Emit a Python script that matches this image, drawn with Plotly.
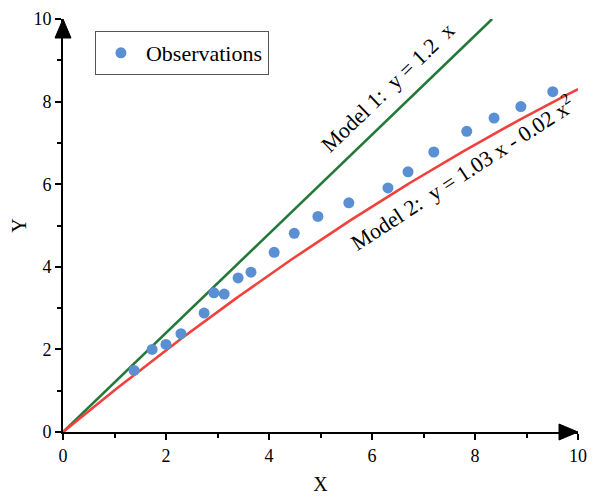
import numpy as np
import plotly.graph_objects as go

obs_x = [1.38, 1.73, 2.00, 2.29, 2.74, 2.93, 3.13, 3.40, 3.65, 4.10, 4.49, 4.95,
         5.55, 6.31, 6.70, 7.20, 7.84, 8.37, 8.89, 9.51]
obs_y = [1.49, 2.00, 2.12, 2.38, 2.88, 3.37, 3.34, 3.73, 3.87, 4.35, 4.81, 5.22,
         5.55, 5.91, 6.30, 6.78, 7.28, 7.60, 7.88, 8.24]

m1_slope = 1.2
m2_a, m2_b = 1.03, -0.02
x_max = 10
y_max = 10

FONT = "Liberation Serif"
GREEN = "#24793a"
RED = "#f0413c"
BLUE = "#5b8fd3"

x1 = np.linspace(0, y_max / m1_slope, 50)
y1 = m1_slope * x1
x2 = np.linspace(0, x_max, 200)
y2 = m2_a * x2 + m2_b * x2 ** 2

fig = go.Figure()
fig.add_trace(go.Scatter(x=x1, y=y1, mode="lines", line=dict(color=GREEN, width=2.6),
                         showlegend=False, cliponaxis=False))
fig.add_trace(go.Scatter(x=x2, y=y2, mode="lines", line=dict(color=RED, width=2.6),
                         showlegend=False, cliponaxis=False))
fig.add_trace(go.Scatter(x=obs_x, y=obs_y, mode="markers", name="Observations",
                         marker=dict(color=BLUE, size=11), cliponaxis=False))

axis_common = dict(
    range=[0, 10], dtick=2, showgrid=False, zeroline=False, automargin=False,
    showline=True, linecolor="black", linewidth=2,
    ticks="outside", ticklen=6, tickwidth=2, tickcolor="black",
    tickfont=dict(family=FONT, size=18, color="black"),
    ticklabeloverflow="allow",
    minor=dict(ticks="outside", ticklen=4, tickwidth=2, tickcolor="black", dtick=1),
)
fig.update_xaxes(**axis_common, title=dict(text="X", font=dict(family=FONT, size=20, color="black"), standoff=12))
fig.update_yaxes(**axis_common, title=dict(text="Y", font=dict(family=FONT, size=20, color="black"), standoff=22))

# axis arrowheads
fig.add_shape(type="path", xref="paper", yref="paper", xsizemode="pixel", ysizemode="pixel",
              xanchor=1, yanchor=0, path="M -19,-8 L 0,0 L -19,8 Z",
              fillcolor="black", line=dict(color="black", width=1), layer="above")
fig.add_shape(type="path", xref="paper", yref="paper", xsizemode="pixel", ysizemode="pixel",
              xanchor=0, yanchor=1, path="M -8,-19 L 0,0 L 8,-19 Z",
              fillcolor="black", line=dict(color="black", width=1), layer="above")

fig.add_annotation(x=6.3, y=8.35, xref="x", yref="y", text="Model 1:  y = 1.2  x",
                   showarrow=False, textangle=-44,
                   font=dict(family=FONT, size=22, color="black"))
fig.add_annotation(x=7.75, y=6.3, xref="x", yref="y", text="Model 2:  y = 1.03 x - 0.02 x<sup>2</sup>",
                   showarrow=False, textangle=-33,
                   font=dict(family=FONT, size=22, color="black"))

fig.update_layout(
    width=592, height=491,
    margin=dict(l=55, r=22, t=11, b=67),
    paper_bgcolor="white", plot_bgcolor="white",
    legend=dict(x=0.062, y=0.971, xanchor="left", yanchor="top",
                bordercolor="#555555", borderwidth=1, bgcolor="white",
                font=dict(family=FONT, size=22, color="black"),
                itemwidth=40, tracegroupgap=0),
)

fig.write_html("out.html")
